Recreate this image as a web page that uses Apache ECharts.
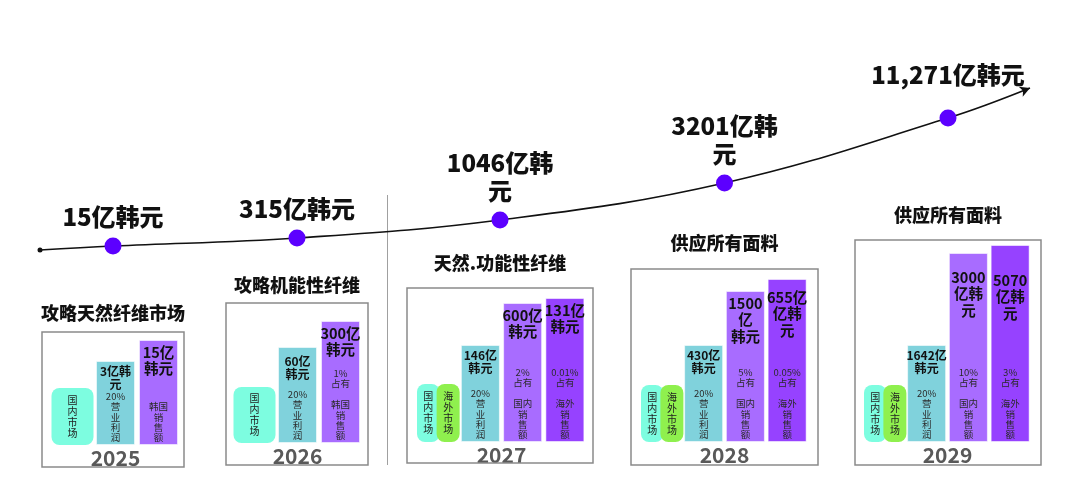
<!DOCTYPE html>
<html>
<head>
<meta charset="utf-8">
<script src="https://cdn.jsdelivr.net/npm/echarts@6/dist/echarts.min.js"></script>
<style>
  html, body { margin: 0; padding: 0; background: #fff; }
  #chart { width: 1080px; height: 501px; }
</style>
</head>
<body>
<div id="chart"></div>
<script>
// values
const years = ['2025', '2026', '2027', '2028', '2029'];
const totalText = ['15亿韩元', '315亿韩元', '1046亿韩\n元', '3201亿韩\n元', '11,271亿韩元'];
// growth curve height of each year (illustrative)
const curveLevel = [7, 11, 20, 38.5, 71];
const curveStartLevel = 5;
const curveEndLevel = 86;

const panelTitles = ['攻略天然纤维市场', '攻略机能性纤维', '天然.功能性纤维', '供应所有面料', '供应所有面料'];
const markets = [['国内市场'], ['国内市场'], ['国内市场', '海外市场'], ['国内市场', '海外市场'], ['国内市场', '海外市场']];
const marketLevel = [57, 56, 58, 57, 57];

const profitText = ['3亿韩\n元', '60亿\n韩元', '146亿\n韩元', '430亿\n韩元', '1642亿\n韩元'];
const profitRate = ['20%', '20%', '20%', '20%', '20%'];
const profitLevel = [84, 96, 97, 97, 97];

const domesticText = ['15亿\n韩元', '300亿\n韩元', '600亿\n韩元', '1500\n亿\n韩元', '3000\n亿韩\n元'];
const domesticShare = ['', '1%', '2%', '5%', '10%'];
const domesticName = ['韩国', '韩国', '国内', '国内', '国内'];
const domesticLevel = [105, 122, 139, 151, 189];

const overseasText = [null, null, '131亿\n韩元', '655亿\n亿韩\n元', '5070\n亿韩\n元'];
const overseasShare = [null, null, '0.01%', '0.05%', '3%'];
const overseasLevel = [null, null, 144, 163, 197];

// layout
const boxes = [[42, 332, 142, 135], [226, 303, 142, 162], [407, 288, 186, 175], [631, 269, 187, 196], [855, 240, 186, 225]];
const barArea = [[51, 445, 129], [233, 443, 129], [417, 442, 169], [641, 442, 167], [864, 442, 167]]; // left, baseline, width
const titleY = [313, 285, 263, 243, 215];
const valueGap = { '4-2': 16, '4-3': 27, '3-3': 10, '1-1': 8 };

const FONT = '"Noto Sans CJK SC", "Noto Sans", sans-serif';
const C = {
  dot: '#5c00ff', market: '#7dfde0', overseasMarket: '#8ff04e',
  profit: '#80d2dc', domestic: '#a86cff', overseas: '#9642ff', box: '#8a8a8a'
};

const grids = [{ left: 0, top: 60, width: 1080, height: 200 }];
const xAxes = [{ type: 'value', gridIndex: 0, min: 0, max: 1080, show: false }];
const yAxes = [{ type: 'value', gridIndex: 0, min: 0, max: 100, show: false }];
const series = [];
const graphics = [];

const boxCenter = b => b[0] + b[2] / 2;

years.forEach((year, p) => {
  const g = p + 1;
  const [left, base, width] = barArea[p];
  grids.push({ left: left, top: base - 200, width: width, height: 200 });
  const slots = overseasLevel[p] ? ['market', 'profit', 'domestic', 'overseas'] : ['market', 'profit', 'domestic'];
  const xMain = xAxes.length;
  xAxes.push({
    type: 'category', gridIndex: g, data: slots,
    axisLine: { show: false }, axisTick: { show: false }, axisLabel: { show: false },
    name: year, nameLocation: 'middle', nameGap: 3,
    nameTextStyle: { fontFamily: FONT, fontWeight: 'bold', fontSize: 21, color: '#595959' }
  });
  const xTag = xAxes.length;
  xAxes.push({ type: 'category', gridIndex: g, data: slots, show: false });
  const yIdx = yAxes.length;
  yAxes.push({ type: 'value', gridIndex: g, min: 0, max: 200, show: false });

  // market tags
  const two = markets[p].length > 1;
  markets[p].forEach((m, k) => {
    series.push({
      type: 'bar', xAxisIndex: xTag, yAxisIndex: yIdx,
      barWidth: two ? 23 : 42, barGap: '-13%',
      data: slots.map((s, i) => i === 0 ? marketLevel[p] : '-'),
      itemStyle: { color: k === 0 ? C.market : C.overseasMarket, borderRadius: 8 },
      label: {
        show: true, position: 'inside', formatter: m.split('').join('\n'),
        fontFamily: FONT, fontSize: 10, lineHeight: 11, color: '#222'
      },
      silent: true
    });
  });

  // bars with amount labels
  const lvl = [null, profitLevel[p], domesticLevel[p], overseasLevel[p]];
  const txt = [null, profitText[p], domesticText[p], overseasText[p]];
  const col = [null, C.profit, C.domestic, C.overseas];
  series.push({
    type: 'bar', xAxisIndex: xMain, yAxisIndex: yIdx, barWidth: 39,
    data: slots.map((s, i) => i === 0 ? '-' : {
      value: lvl[i],
      itemStyle: { color: col[i] },
      label: {
        formatter: txt[i],
        distance: valueGap[p + '-' + i] || 4,
        fontSize: i === 1 ? 12 : 14.5,
        lineHeight: i === 1 ? 13 : 16.5
      }
    }),
    itemStyle: { borderColor: 'rgba(255,255,255,0.55)', borderWidth: 1 },
    label: {
      show: true, position: 'insideTop', fontFamily: FONT, fontWeight: 'bold', color: '#111'
    },
    silent: true
  });

  // notes at the bottom of each bar
  const notes = [
    null,
    profitRate[p] + '\n营\n业\n利\n润',
    (domesticShare[p] ? domesticShare[p] + '\n占有\n\n' : '') + domesticName[p] + '\n销\n售\n额',
    overseasShare[p] ? overseasShare[p] + '\n占有\n\n海外\n销\n售\n额' : ''
  ];
  series.push({
    type: 'bar', xAxisIndex: xMain, yAxisIndex: yIdx, barWidth: 39, barGap: '-100%',
    data: slots.map((s, i) => i === 0 ? '-' : { value: lvl[i], label: { formatter: notes[i] } }),
    itemStyle: { color: 'rgba(0,0,0,0)' },
    label: {
      show: true, position: 'insideBottom', distance: 2,
      fontFamily: FONT, fontSize: 9.5, lineHeight: 10.4, color: '#2a2a2a'
    },
    silent: true
  });

  const b = boxes[p];
  graphics.push({
    type: 'rect', shape: { x: b[0], y: b[1], width: b[2], height: b[3] },
    style: { fill: 'none', stroke: C.box, lineWidth: 1.5 }, z: 1
  });
  graphics.push({
    type: 'text', x: boxCenter(b), y: titleY[p],
    style: { text: panelTitles[p], font: '900 18px ' + FONT, fill: '#111', align: 'center', verticalAlign: 'middle' }
  });
});

// separator between the two phases
const sepX = (boxes[1][0] + boxes[1][2] + boxes[2][0]) / 2;
graphics.push({
  type: 'line', shape: { x1: sepX, y1: 195, x2: sepX, y2: 465 },
  style: { stroke: '#a0a0a0', lineWidth: 1 }
});

// growth curve
const curveStartX = boxes[0][0] - 2;
const curveEndX = boxes[4][0] + boxes[4][2] - 11;
const curveData = [{ value: [curveStartX, curveStartLevel], symbol: 'circle', symbolSize: 5, itemStyle: { color: '#111' }, label: { show: false } }];
years.forEach((y, i) => {
  curveData.push({
    value: [boxCenter(boxes[i]), curveLevel[i]],
    label: { formatter: totalText[i], distance: i === 4 ? 21 : 7 }
  });
});
curveData.push({ value: [curveEndX, curveEndLevel], symbol: 'arrow', symbolSize: [8, 10], symbolRotate: -68, itemStyle: { color: '#111' }, label: { show: false } });

series.push({
  type: 'line', xAxisIndex: 0, yAxisIndex: 0, data: curveData,
  smooth: 0.4, symbol: 'circle', symbolSize: 17, showAllSymbol: true,
  lineStyle: { color: '#111', width: 1.6 },
  itemStyle: { color: C.dot },
  label: {
    show: true, position: 'top', fontFamily: FONT, fontWeight: 900,
    fontSize: 24, lineHeight: 28, color: '#111'
  },
  z: 5, silent: true
});

const chart = echarts.init(document.getElementById('chart'));
chart.setOption({
  animation: false,
  backgroundColor: '#fff',
  grid: grids,
  xAxis: xAxes,
  yAxis: yAxes,
  series: series,
  graphic: graphics
});
</script>
</body>
</html>
